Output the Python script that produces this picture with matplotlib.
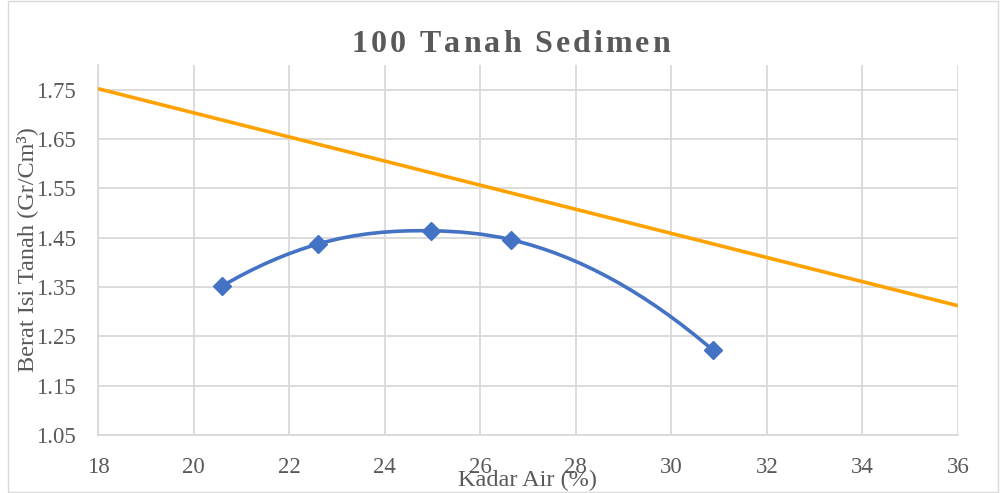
import numpy as np
import matplotlib.pyplot as plt
from matplotlib.path import Path
from matplotlib.patches import PathPatch, Rectangle

# data
kadar_air = [20.6, 22.6, 24.97, 26.64, 30.87]
berat_isi = [1.352, 1.437, 1.464, 1.446, 1.222]
zav_x = [18, 36]
zav_y = [1.752, 1.312]
xticks = [18, 20, 22, 24, 26, 28, 30, 32, 34, 36]
yticks = [1.05, 1.15, 1.25, 1.35, 1.45, 1.55, 1.65, 1.75]

plt.rcParams['font.family'] = ['Liberation Serif', 'DejaVu Serif']
grey = '#595959'
blue = '#4472C4'
orange = '#FFA200'

fig = plt.figure(figsize=(10.02, 4.93), dpi=100)
ax = fig.add_axes([98/1002, 1-435/493, 860/1002, 370/493])

# outer chart border
fig.patches.append(Rectangle((8/1002, 0.002), 990/1002, 0.996, transform=fig.transFigure,
                             fill=False, edgecolor='#D9D9D9', lw=1))

ax.plot(zav_x, zav_y, color=orange, lw=2.6, solid_capstyle='butt', zorder=3)

# smoothed line through the points (cubic hermite in x, drawn as bezier)
x = np.array(kadar_air)
y = np.array(berat_isi)
n = len(x)
h = np.diff(x)
d = np.diff(y) / h
m = np.zeros(n)
for i in range(1, n - 1):
    m[i] = (h[i - 1] * d[i] + h[i] * d[i - 1]) / (h[i - 1] + h[i])
m[0] = 2 * d[0] - m[1]
m[-1] = 2 * d[-1] - m[-2]
verts = [(x[0], y[0])]
codes = [Path.MOVETO]
for i in range(n - 1):
    verts += [(x[i] + h[i] / 3, y[i] + m[i] * h[i] / 3),
              (x[i + 1] - h[i] / 3, y[i + 1] - m[i + 1] * h[i] / 3),
              (x[i + 1], y[i + 1])]
    codes += [Path.CURVE4] * 3
ax.add_patch(PathPatch(Path(verts, codes), fill=False, edgecolor=blue, lw=2.6, zorder=4))
ax.plot(kadar_air, berat_isi, linestyle='none', marker='D', markersize=9,
        color=blue, zorder=5)

ax.set_xlim(18, 36)
ax.set_ylim(1.05, 1.80)
ax.set_xticks(xticks)
ax.set_yticks(yticks)
ax.set_yticklabels([f'{v:.2f}' for v in yticks])
ax.grid(True, color='#D9D9D9', lw=1.3)
ax.set_axisbelow(True)
for s in ['top', 'right']:
    ax.spines[s].set_visible(False)
for s in ['left', 'bottom']:
    ax.spines[s].set_color('#D9D9D9')
    ax.spines[s].set_linewidth(1.3)
ax.tick_params(length=0, labelsize=16.5, labelcolor=grey)
ax.tick_params(axis='x', pad=16)
ax.tick_params(axis='y', pad=16)

# title with letter spacing, drawn char by char
title = '100 Tanah Sedimen'
spacing = 3.0
renderer = fig.canvas.get_renderer()
widths = []
for ch in title:
    t = fig.text(0, 0, ch, fontsize=23, fontweight='bold')
    w = t.get_window_extent(renderer).width
    widths.append(w if w > 0 else 6)
    t.remove()
total = sum(widths) + spacing * (len(title) - 1)
xpos = 511 - total / 2
for ch, w in zip(title, widths):
    fig.text(xpos / 1002, 1 - 44 / 493, ch, ha='left', va='center',
             fontsize=23, fontweight='bold', color=grey)
    xpos += w + spacing

fig.text(527/1002, 1-480/493, 'Kadar Air (%)', ha='center', va='center',
         fontsize=17.5, color=grey)
fig.text(27/1002, 1-250/493, 'Berat Isi Tanah (Gr/Cm³)', ha='center', va='center',
         fontsize=17.5, color=grey, rotation=90)

fig.savefig('out.png', dpi=100)
